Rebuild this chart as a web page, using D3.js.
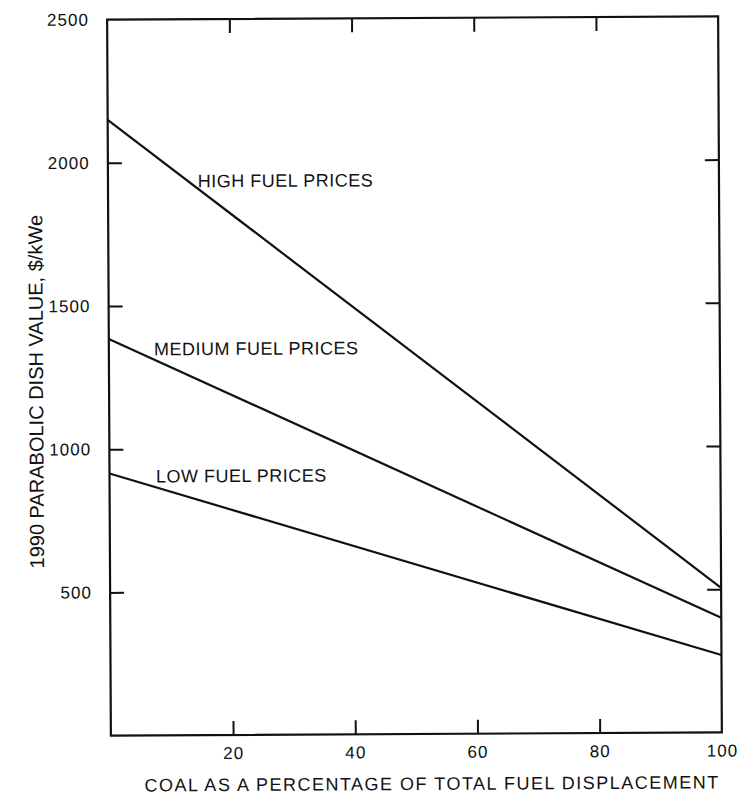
<!DOCTYPE html>
<html>
<head>
<meta charset="utf-8">
<script src="https://cdn.jsdelivr.net/npm/d3@7"></script>
<style>
  html, body { margin: 0; padding: 0; background: #fff; }
  svg { display: block; }
  text { font-family: "Liberation Sans", Arial, Helvetica, sans-serif; fill: #111; }
</style>
</head>
<body>
<svg id="chart" width="743" height="802"></svg>
<script>
// Coal share of fuel displacement (%) at the two ends of each scenario line
const coalShare = [0, 100];

// 1990 parabolic dish value, $/kWe
const scenarioNames = ["HIGH FUEL PRICES", "MEDIUM FUEL PRICES", "LOW FUEL PRICES"];
const highValues = [2150, 505];
const mediumValues = [1385, 400];
const lowValues = [915, 270];

// Axis ticks
const xTickValues = [20, 40, 60, 80, 100];
const yTickValues = [500, 1000, 1500, 2000, 2500];
const xInnerTicks = [20, 40, 60, 80];
const yInnerTicks = [500, 1000, 1500, 2000];

const xTitle = "COAL AS A PERCENTAGE OF TOTAL FUEL DISPLACEMENT";
const yTitle = "1990 PARABOLIC DISH VALUE, $/kWe";

const svg = d3.select("#chart");
const W = 743, H = 802;
const m = { left: 109, right: 23, top: 18, bottom: 68 };

const x = d3.scaleLinear().domain([0, 100]).range([m.left, W - m.right]);
const y = d3.scaleLinear().domain([0, 2500]).range([H - m.bottom, m.top]);

// whole figure sits slightly askew, as printed
const g = svg.append("g")
  .attr("transform", `rotate(-0.3, ${(m.left + W - m.right) / 2}, ${(m.top + H - m.bottom) / 2})`);

const stroke = "#111";
const tickLen = 14;
const numFmt = d3.format("d");

// frame
g.append("rect")
  .attr("x", x(0)).attr("y", y(2500))
  .attr("width", x(100) - x(0)).attr("height", y(0) - y(2500))
  .attr("fill", "none").attr("stroke", stroke).attr("stroke-width", 2.2);

// bottom axis: inward ticks + labels
const xAxis = d3.axisBottom(x).tickValues(xTickValues).tickFormat(numFmt)
  .tickSize(-tickLen).tickPadding(12);
const gx = g.append("g").attr("transform", `translate(0,${y(0)})`).call(xAxis);
gx.select(".domain").remove();
gx.selectAll(".tick line").attr("stroke", stroke).attr("stroke-width", 2)
  .filter(d => d === 100).remove();
gx.selectAll(".tick text").attr("font-size", 17).attr("letter-spacing", 1.1)
  .attr("fill", "#111").style("font-family", "'Liberation Sans', Arial, sans-serif");

// left axis: inward ticks + labels
const yAxis = d3.axisLeft(y).tickValues(yTickValues).tickFormat(numFmt)
  .tickSize(-tickLen).tickPadding(18);
const gy = g.append("g").attr("transform", `translate(${x(0)},0)`).call(yAxis);
gy.select(".domain").remove();
gy.selectAll(".tick line").attr("stroke", stroke).attr("stroke-width", 2)
  .filter(d => d === 2500).remove();
gy.selectAll(".tick text").attr("font-size", 17).attr("letter-spacing", 1.1)
  .attr("fill", "#111").style("font-family", "'Liberation Sans', Arial, sans-serif");

// top and right inward ticks (no labels)
const gt = g.append("g").attr("transform", `translate(0,${y(2500)})`)
  .call(d3.axisTop(x).tickValues(xInnerTicks).tickSize(-tickLen).tickFormat(""));
gt.select(".domain").remove();
gt.selectAll(".tick line").attr("stroke", stroke).attr("stroke-width", 2);

const gr = g.append("g").attr("transform", `translate(${x(100)},0)`)
  .call(d3.axisRight(y).tickValues(yInnerTicks).tickSize(-tickLen).tickFormat(""));
gr.select(".domain").remove();
gr.selectAll(".tick line").attr("stroke", stroke).attr("stroke-width", 2);

// scenario lines
const series = [highValues, mediumValues, lowValues];
const line = d3.line().x((d, i) => x(coalShare[i])).y(d => y(d));
g.selectAll("path.scenario").data(series).enter().append("path")
  .attr("class", "scenario")
  .attr("d", line)
  .attr("fill", "none").attr("stroke", stroke).attr("stroke-width", 2.2);

// scenario labels, placed in data units
const labelSpots = [[14.7, 1913], [7.4, 1327], [7.6, 883]];
g.selectAll("text.scenario-label").data(scenarioNames).enter().append("text")
  .attr("class", "scenario-label")
  .attr("x", (d, i) => x(labelSpots[i][0]))
  .attr("y", (d, i) => y(labelSpots[i][1]))
  .attr("font-size", 18).attr("letter-spacing", 0.5)
  .text(d => d);

// axis titles
g.append("text")
  .attr("x", 430).attr("y", 790)
  .attr("text-anchor", "middle")
  .attr("font-size", 18).attr("letter-spacing", 1.5)
  .text(xTitle);

g.append("text")
  .attr("transform", `translate(43,213) rotate(-90)`)
  .attr("text-anchor", "end")
  .attr("font-size", 20)
  .text(yTitle);
</script>
</body>
</html>
